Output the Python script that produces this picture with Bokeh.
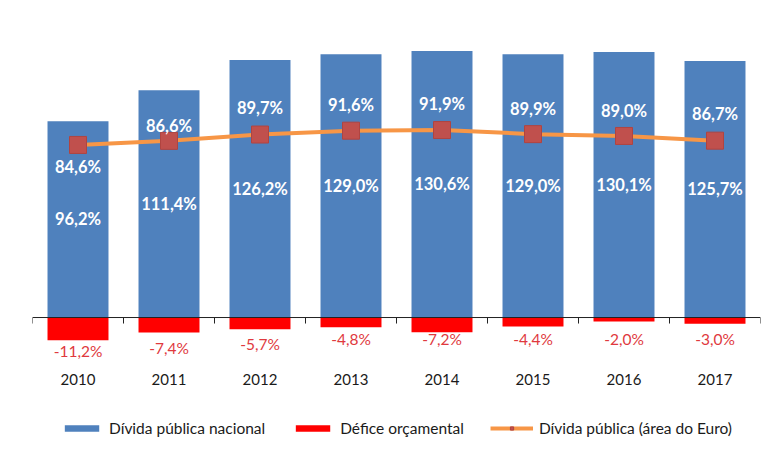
import math
from bokeh.plotting import figure
from bokeh.models import ColumnDataSource, Range1d, Legend, LegendItem, Span
from bokeh.embed import file_html
from bokeh.resources import INLINE
from bokeh.core.properties import value

years = ["2010", "2011", "2012", "2013", "2014", "2015", "2016", "2017"]
divida_nacional = [96.2, 111.4, 126.2, 129.0, 130.6, 129.0, 130.1, 125.7]
defice = [-11.2, -7.4, -5.7, -4.8, -7.2, -4.4, -2.0, -3.0]
divida_euro = [84.6, 86.6, 89.7, 91.6, 91.9, 89.9, 89.0, 86.7]

# label placement (screen px offsets, style only)
euro_label_offset = [22, -15, -27, -26, -26, -25, -25, -27]
defice_label_offset = [33, 30, 26, 21, 21, 21, 21, 21]
year_label_offset = 62


def fmt(v):
    return f"{v:.1f}%".replace(".", ",")


n = len(years)
xs = list(range(n))

src = ColumnDataSource(dict(
    x=xs,
    year=years,
    nac=divida_nacional,
    nac_mid=[v / 2 for v in divida_nacional],
    nac_lbl=[fmt(v) for v in divida_nacional],
    dfc=defice,
    zero=[0] * n,
    dfc_lbl=[fmt(v) for v in defice],
    dfc_off=defice_label_offset,
    eur=divida_euro,
    eur_lbl=[fmt(v) for v in divida_euro],
    eur_off=euro_label_offset,
))

p = figure(width=768, height=449, output_backend="svg", toolbar_location=None,
           x_range=Range1d(-0.5, n - 0.5), y_range=Range1d(-64.7, 140.7),
           x_axis_location=None, y_axis_location=None,
           min_border_left=32, min_border_right=8,
           min_border_top=30, min_border_bottom=0)
p.outline_line_color = None
p.xgrid.visible = False
p.ygrid.visible = False
p.background_fill_color = "white"
p.border_fill_color = "white"

BLUE = "#4F81BD"
RED = "#FF0000"
ORANGE = "#F79646"
MARK = "#C0504D"

bars = p.vbar(x="x", top="nac", bottom=0, width=0.67, source=src,
              fill_color=BLUE, line_color=None)
dbars = p.vbar(x="x", top="zero", bottom="dfc", width=0.67, source=src,
               fill_color=RED, line_color=None)

# zero line and category-boundary ticks
p.add_layout(Span(location=0, dimension="width", line_color="#222222", line_width=1))
p.ray(x=[i - 0.5 for i in range(n + 1)], y=0, length=6, length_units="screen",
      angle=-math.pi / 2, line_color="#222222", line_width=1)

line = p.line(x="x", y="eur", source=src, line_color=ORANGE, line_width=4)
sq = p.scatter(x="x", y="eur", source=src, marker="square", size=17,
               fill_color=MARK, line_color="#B04440", line_width=1)

p.text(x="x", y="nac_mid", text="nac_lbl", source=src, text_color="white",
       text_font=value("Lato"), text_font_style="bold", text_font_size="16.5px",
       text_align="center", text_baseline="middle")
p.text(x="x", y="eur", text="eur_lbl", source=src, y_offset="eur_off", text_color="white",
       text_font=value("Lato"), text_font_style="bold", text_font_size="16.5px",
       text_align="center", text_baseline="middle")
p.text(x="x", y="zero", text="dfc_lbl", source=src, y_offset="dfc_off", text_color="#E0393E",
       text_font=value("Lato"), text_font_size="15.5px",
       text_align="center", text_baseline="middle")
# category (year) labels
p.text(x="x", y="zero", text="year", source=src, y_offset=year_label_offset,
       text_color="#1a1a1a", text_font=value("Lato"), text_font_size="15px",
       text_align="center", text_baseline="middle")

legend = Legend(items=[
    LegendItem(label="Dívida pública nacional", renderers=[bars]),
    LegendItem(label="Défice orçamental", renderers=[dbars]),
    LegendItem(label="Dívida pública (área do Euro)", renderers=[line, sq]),
], orientation="horizontal", location="bottom_center", margin=12, padding=0,
    spacing=26, glyph_width=43, glyph_height=8, label_standoff=6,
    label_text_font="Lato", label_text_font_size="15.5px", label_text_color="#1a1a1a",
    border_line_color=None, background_fill_alpha=0)
p.add_layout(legend, "center")

open("out.html", "w").write(file_html(p, INLINE))
